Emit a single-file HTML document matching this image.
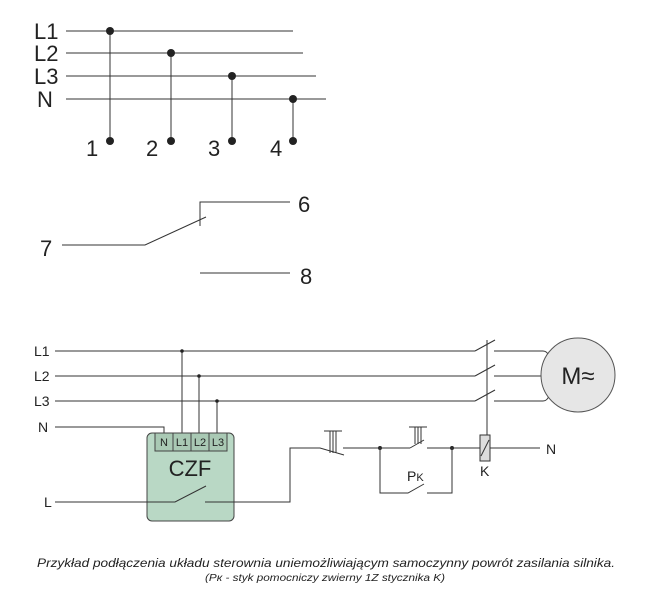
<!DOCTYPE html>
<html><head><meta charset="utf-8"><style>
body{margin:0;background:#fff}
svg{display:block}
text{font-family:"Liberation Sans",sans-serif;fill:#222}
</style></head><body>
<svg width="651" height="603" viewBox="0 0 651 603" xmlns="http://www.w3.org/2000/svg">
<g stroke="#333" stroke-width="1" fill="none">
<line x1="66" y1="31" x2="293" y2="31"/>
<line x1="66" y1="53" x2="303" y2="53"/>
<line x1="66" y1="76" x2="316" y2="76"/>
<line x1="66" y1="99" x2="326" y2="99"/>
<line x1="110" y1="31" x2="110" y2="141"/>
<line x1="171" y1="53" x2="171" y2="141"/>
<line x1="232" y1="76" x2="232" y2="141"/>
<line x1="293" y1="99" x2="293" y2="141"/>
<polyline points="290,202 200,202 200,226"/>
<polyline points="62,245 145,245 206,217"/>
<line x1="200" y1="273" x2="290" y2="273"/>
<line x1="55" y1="351" x2="475" y2="351"/>
<line x1="55" y1="376" x2="475" y2="376"/>
<line x1="55" y1="401" x2="475" y2="401"/>
<line x1="475" y1="351" x2="495" y2="340"/>
<line x1="475" y1="376" x2="495" y2="365"/>
<line x1="475" y1="401" x2="495" y2="390"/>
<path d="M494,351 H543 Q547,351 549,356"/>
<line x1="494" y1="376" x2="541" y2="376"/>
<path d="M494,401 H543 Q547,401 549,396"/>
<line x1="487" y1="340" x2="487" y2="435"/>
<polyline points="55,427 164,427 164,434"/>
<line x1="182" y1="351" x2="182" y2="434"/>
<line x1="199" y1="376" x2="199" y2="434"/>
<line x1="217" y1="401" x2="217" y2="434"/>
</g>
<g fill="#222">
<circle cx="110" cy="31" r="4"/><circle cx="171" cy="53" r="4"/><circle cx="232" cy="76" r="4"/><circle cx="293" cy="99" r="4"/>
<circle cx="110" cy="141" r="4"/><circle cx="171" cy="141" r="4"/><circle cx="232" cy="141" r="4"/><circle cx="293" cy="141" r="4"/>
<circle cx="182" cy="351" r="1.8"/><circle cx="199" cy="376" r="1.8"/><circle cx="217" cy="401" r="1.8"/>
<circle cx="380" cy="448" r="2"/><circle cx="452" cy="448" r="2"/>
</g>
<circle cx="578" cy="375" r="37" fill="#e6e6e6" stroke="#555"/>
<text x="578" y="384" font-size="24" text-anchor="middle">M≈</text>
<rect x="147" y="433" width="87" height="88" rx="5" fill="#b9d8c5" stroke="#444"/>
<g stroke="#444" fill="#a9c9b4">
<rect x="155" y="433" width="18" height="18"/><rect x="173" y="433" width="18" height="18"/><rect x="191" y="433" width="18" height="18"/><rect x="209" y="433" width="18" height="18"/>
</g>
<g font-size="11" text-anchor="middle">
<text x="164" y="446">N</text><text x="182" y="446">L1</text><text x="200" y="446">L2</text><text x="218" y="446">L3</text>
</g>
<text x="190" y="476" font-size="22" text-anchor="middle">CZF</text>
<g stroke="#333" fill="none">
<polyline points="55,502 175,502 206,486"/>
<polyline points="205,502 290,502 290,448 320,448 344,455"/>
<line x1="343" y1="448" x2="410" y2="448"/>
<line x1="410" y1="448" x2="424" y2="440"/>
<line x1="427" y1="448" x2="480" y2="448"/>
<polyline points="380,448 380,493 408,493 424,484"/>
<polyline points="427,493 452,493 452,448"/>
<rect x="480" y="435" width="10" height="26" fill="#ddd"/>
<line x1="481" y1="456" x2="489" y2="440"/>
<line x1="490" y1="448" x2="540" y2="448"/>
<line x1="324" y1="431" x2="342" y2="431"/>
<line x1="330" y1="431" x2="330" y2="453"/><line x1="333" y1="431" x2="333" y2="453"/><line x1="336" y1="431" x2="336" y2="453"/>
<line x1="409" y1="427" x2="427" y2="427"/>
<line x1="415" y1="427" x2="415" y2="444"/><line x1="418" y1="427" x2="418" y2="444"/><line x1="421" y1="427" x2="421" y2="444"/>
</g>
<g font-size="22">
<text x="34" y="39">L1</text><text x="34" y="61">L2</text><text x="34" y="84">L3</text><text x="37" y="107">N</text>
<text x="86" y="156">1</text><text x="146" y="156">2</text><text x="208" y="156">3</text><text x="270" y="156">4</text>
<text x="298" y="212">6</text><text x="40" y="256">7</text><text x="300" y="284">8</text>
</g>
<g font-size="14">
<text x="34" y="356">L1</text><text x="34" y="381">L2</text><text x="34" y="406">L3</text><text x="38" y="432">N</text><text x="44" y="507">L</text>
<text x="546" y="454">N</text><text x="480" y="476">K</text><text x="407" y="481">P<tspan font-size="11">K</tspan></text>
</g>
<text x="326" y="567" font-size="12" font-style="italic" text-anchor="middle" textLength="578" lengthAdjust="spacingAndGlyphs">Przykład podłączenia układu sterownia uniemożliwiającym samoczynny powrót zasilania silnika.</text>
<text x="325" y="581" font-size="10" font-style="italic" text-anchor="middle" textLength="240" lengthAdjust="spacingAndGlyphs">(Pк - styk pomocniczy zwierny 1Z stycznika K)</text>
</svg>
</body></html>
